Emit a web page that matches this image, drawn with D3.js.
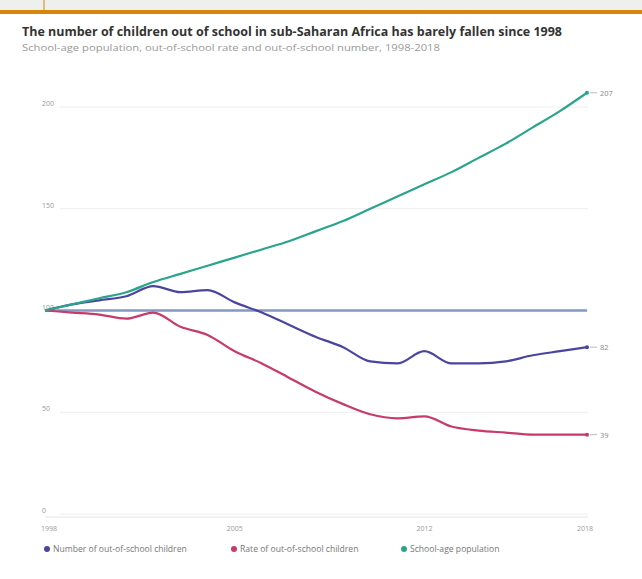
<!DOCTYPE html>
<html><head><meta charset="utf-8">
<script src="https://cdn.jsdelivr.net/npm/d3@7"></script>
<style>body{margin:0;background:#fff;font-family:"Open Sans",sans-serif}</style>
</head><body><svg id="c" width="642" height="579"></svg>
<script>
const years = d3.range(1998, 2019);
const outOfSchoolNumber = [100,103,105,107,112,109,110,104,99,93,87,82,75,74,80,74,74,75,78,80,82];
const outOfSchoolRate = [100,99,98,96,99,92,88,80,74,67,60,54,49,47,48,43,41,40,39,39,39];
const schoolAgePopulation = [100,103,106,109,114,118,122,126,130,134,139,144,150,156,162,168,175,182,190,198,207];
const yTicks = [0,50,100,150,200];
const xTicks = [1998,2005,2012,2018];
const seriesNames = ["Number of out-of-school children","Rate of out-of-school children","School-age population"];
const colors = ["#4a469e","#c83a6c","#2aa58c"];

const svg = d3.select("#c");
svg.append("rect").attr("x",0).attr("y",0).attr("width",642).attr("height",10).attr("fill","#eef0ee");
svg.append("rect").attr("x",0).attr("y",10).attr("width",642).attr("height",4).attr("fill","#d4870a");
svg.append("line").attr("x1",44).attr("x2",44).attr("y1",0).attr("y2",10).attr("stroke","#d4870a").attr("stroke-width",1);

svg.append("text").attr("x",22).attr("y",36).attr("font-size",11.5).attr("font-weight","bold").attr("fill","#333")
  .attr("textLength",540).attr("lengthAdjust","spacingAndGlyphs")
  .text("The number of children out of school in sub-Saharan Africa has barely fallen since 1998");
svg.append("text").attr("x",22).attr("y",51).attr("font-size",9.5).attr("fill","#999")
  .attr("textLength",418).attr("lengthAdjust","spacingAndGlyphs")
  .text("School-age population, out-of-school rate and out-of-school number, 1998-2018");

const x = d3.scaleLinear().domain([1998,2018]).range([45,587]);
const y = d3.scaleLinear().domain([0,200]).range([514,107]);

const g = svg.append("g");
g.selectAll("line.grid").data(yTicks).join("line").attr("class","grid")
  .attr("x1",60).attr("x2",588).attr("y1",d=>y(d)).attr("y2",d=>y(d))
  .attr("stroke","#eeeeee").attr("stroke-width",1);
g.selectAll("text.yl").data(yTicks).join("text").attr("class","yl")
  .attr("x",42).attr("y",d=>y(d)-1).attr("font-size",7).attr("fill","#999").text(d=>d);
svg.append("line").attr("x1",45).attr("x2",588).attr("y1",y(0)+3).attr("y2",y(0)+3).attr("stroke","#e6e6e6");
g.selectAll("text.xl").data(xTicks).join("text").attr("class","xl")
  .attr("x",(d,i)=>x(d)-(i===0?4:(i===xTicks.length-1?10:8))).attr("y",531).attr("font-size",7).attr("fill","#999").text(d=>d);

svg.append("line").attr("x1",x(1998)).attr("x2",x(2018)).attr("y1",y(100)).attr("y2",y(100))
  .attr("stroke","#8399bd").attr("stroke-width",2.5);

const line = d3.line().x((d,i)=>x(years[i])).y(d=>y(d)).curve(d3.curveMonotoneX);
const data = [outOfSchoolNumber, outOfSchoolRate, schoolAgePopulation];
data.forEach((s,k)=>{
  svg.append("path").datum(s).attr("d",line).attr("fill","none").attr("stroke",colors[k]).attr("stroke-width",2.2);
  const last = s[s.length-1];
  svg.append("circle").attr("cx",x(2018)).attr("cy",y(last)).attr("r",2).attr("fill",colors[k]);
  svg.append("line").attr("x1",x(2018)+3).attr("x2",x(2018)+10).attr("y1",y(last)).attr("y2",y(last)).attr("stroke","#bbb");
  svg.append("text").attr("x",x(2018)+13).attr("y",y(last)+3).attr("font-size",7.5).attr("fill","#888").text(last);
});

const legX = [47, 234, 404];
seriesNames.forEach((n,k)=>{
  svg.append("circle").attr("cx",legX[k]).attr("cy",549).attr("r",3).attr("fill",colors[k]);
  svg.append("text").attr("x",legX[k]+6).attr("y",552).attr("font-size",8.6).attr("fill","#777").text(n);
});
</script></body></html>
